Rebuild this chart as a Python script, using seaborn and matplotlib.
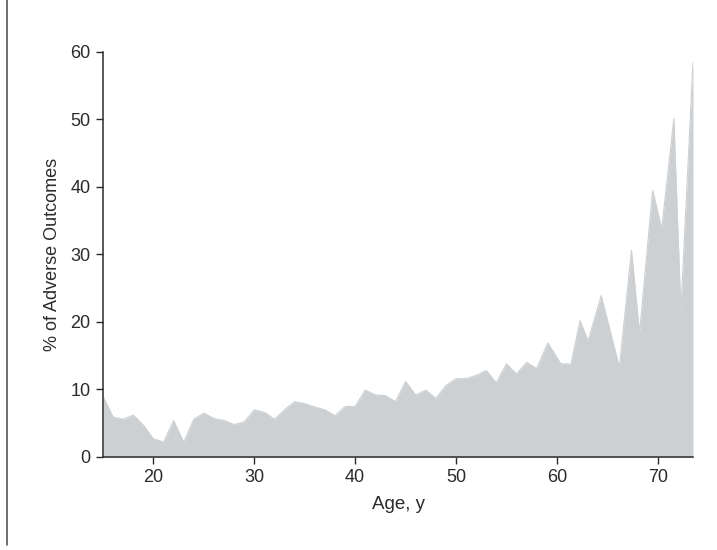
import matplotlib
matplotlib.use("Agg")
import matplotlib.pyplot as plt
from matplotlib.lines import Line2D
import pandas as pd
import seaborn as sns

# Age (years) and % of adverse outcomes
ages = [15, 16, 17, 18, 19, 20, 21, 22, 23, 24, 25, 26, 27, 28, 29,
        30, 31, 32, 33, 34, 35, 36, 37, 38, 39, 40, 41, 42, 43, 44,
        45, 46, 47, 48, 49, 50, 51, 52, 53, 54, 55, 56, 57, 58,
        59.1, 60.4, 61.4, 62.3, 63.1, 64.4, 66.2, 67.4, 68.2, 69.5,
        70.4, 71.6, 72.3, 73.5]
pct_adverse = [9.0, 5.9, 5.6, 6.2, 4.7, 2.7, 2.2, 5.4, 2.2, 5.6, 6.5, 5.7, 5.4, 4.8, 5.2,
               7.0, 6.6, 5.6, 7.0, 8.2, 7.9, 7.4, 7.0, 6.1, 7.5, 7.5, 9.9, 9.2, 9.1, 8.2,
               11.2, 9.2, 9.9, 8.7, 10.6, 11.6, 11.6, 12.1, 12.8, 11.0, 13.8, 12.3, 14.0, 13.1,
               16.9, 13.8, 13.8, 20.2, 17.2, 23.9, 13.3, 30.6, 18.4, 39.5,
               33.8, 50.1, 21.7, 58.5]
x_ticks = [20, 30, 40, 50, 60, 70]
y_ticks = [0, 10, 20, 30, 40, 50, 60]

df = pd.DataFrame({"age": ages, "pct": pct_adverse})

sns.set_style("ticks")
plt.rcParams["font.family"] = ["Liberation Sans", "DejaVu Sans"]

fill_color = "#cdd0d3"
ink = "#2b2b2b"

fig = plt.figure(figsize=(7.17, 5.5), dpi=100)
ax = fig.add_axes([0.1437, 0.1691, 0.8228, 0.7364])

sns.lineplot(data=df, x="age", y="pct", ax=ax, color=fill_color, linewidth=0.8)
ax.fill_between(df["age"], 0, df["pct"], color=fill_color, linewidth=0)

ax.set_xlim(15, 73.5)
ax.set_ylim(0, 60)
ax.set_xticks(x_ticks)
ax.set_yticks(y_ticks)
ax.tick_params(axis="both", labelsize=13, length=5, width=1, color=ink,
               labelcolor=ink, pad=4)
ax.set_xlabel("Age, y", fontsize=13.5, color=ink, labelpad=7)
ax.set_ylabel("% of Adverse Outcomes", fontsize=13, color=ink, labelpad=7)

sns.despine(ax=ax)
for side in ["left", "bottom"]:
    ax.spines[side].set_color(ink)
    ax.spines[side].set_linewidth(1.1)

# page border line on the far left of the scan
fig.add_artist(Line2D([7 / 717, 7 / 717], [5 / 550, 1.0], color="#555555",
                      linewidth=1.2, transform=fig.transFigure))

fig.savefig("out.png", dpi=100)
